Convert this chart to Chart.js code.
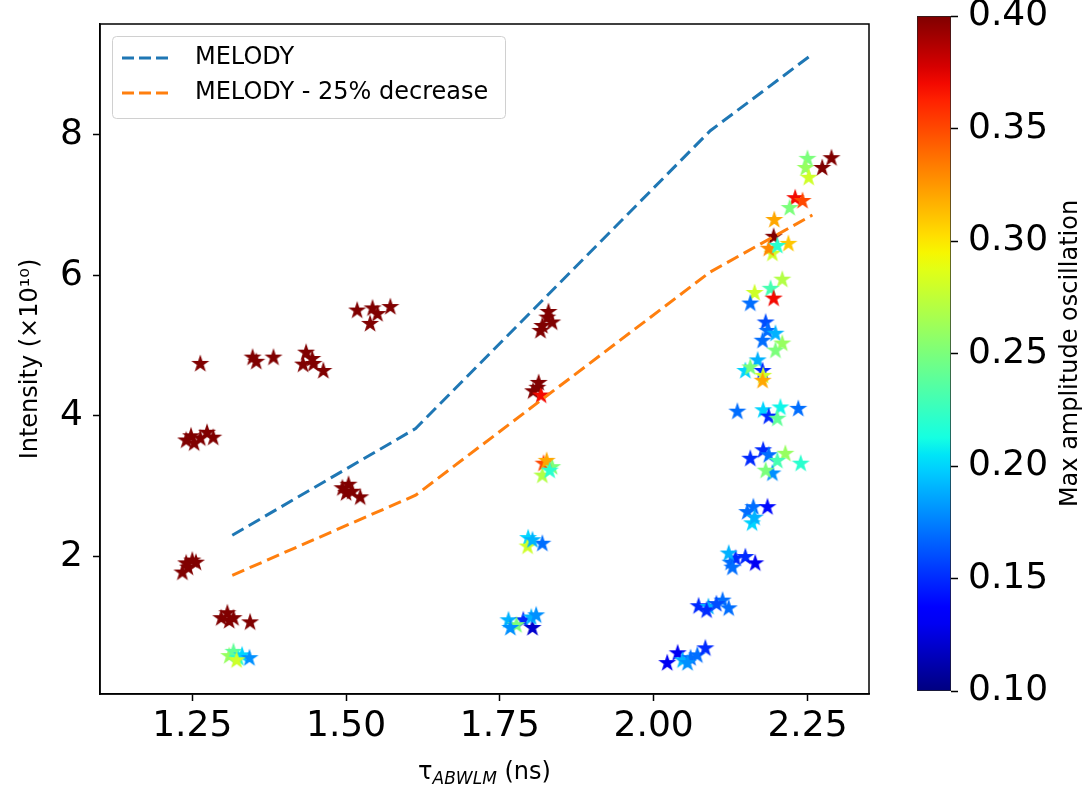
<!DOCTYPE html>
<html>
<head>
<meta charset="utf-8">
<script src="https://cdn.jsdelivr.net/npm/chart.js@4.4.0/dist/chart.umd.min.js"></script>
<style>
  html, body { margin: 0; padding: 0; background: #fff; }
  #wrap { position: relative; width: 1084px; height: 790px; }
  .box { position: absolute; top: 0; height: 790px; }
</style>
</head>
<body>
<div id="wrap">
  <div class="box" style="left:0;width:890px"><canvas id="main"></canvas></div>
  <div class="box" style="left:890px;width:194px"><canvas id="cbar"></canvas></div>
</div>
<script>
// MELODY reference curves
const melodyTau = [1.315, 1.613, 2.092, 2.258];
const melodyIntensity = [2.30, 3.82, 8.06, 9.15];
const melodyLowIntensity = [1.73, 2.87, 6.05, 6.86];

// measured points: tau (ns), intensity (1e10), max amplitude oscillation
const starTau = [
  1.263, 1.348, 1.354, 1.382, 1.435, 1.430, 1.445, 1.447, 1.463,
  1.518, 1.543, 1.551, 1.539, 1.572,
  1.240, 1.248, 1.253, 1.274, 1.284, 1.263,
  1.234, 1.240, 1.250, 1.243, 1.256,
  1.297, 1.307, 1.317, 1.310, 1.344,
  1.494, 1.504, 1.510, 1.500, 1.523,
  1.310, 1.317, 1.325, 1.331, 1.343, 1.322,
  1.827, 1.819, 1.835, 1.816, 1.829,
  1.811, 1.804, 1.817, 1.813,
  1.821, 1.835, 1.819, 1.826, 1.831,
  1.796, 1.819, 1.795, 1.803,
  1.764, 1.788, 1.803, 1.801, 1.777, 1.767, 1.809,
  2.250, 2.247, 2.252, 2.274, 2.289, 2.230, 2.242, 2.221, 2.196, 2.195,
  2.219, 2.193, 2.187, 2.201, 2.209, 2.164, 2.190, 2.195, 2.157, 2.182,
  2.185, 2.177, 2.198, 2.209, 2.198, 2.169, 2.149, 2.157, 2.177, 2.178,
  2.177, 2.136, 2.178, 2.206, 2.187, 2.201, 2.235,
  2.157, 2.178, 2.187, 2.214, 2.201, 2.239, 2.193, 2.182,
  2.152, 2.162, 2.160, 2.185, 2.164,
  2.125, 2.133, 2.149, 2.165, 2.122, 2.128,
  2.073, 2.089, 2.112, 2.122, 2.086, 2.102,
  2.022, 2.039, 2.047, 2.060, 2.071, 2.084, 2.055
];
const starIntensity = [
  4.74, 4.83, 4.77, 4.83, 4.90, 4.73, 4.81, 4.74, 4.64,
  5.50, 5.53, 5.45, 5.31, 5.55,
  3.65, 3.71, 3.61, 3.76, 3.69, 3.68,
  1.77, 1.90, 1.94, 1.84, 1.91,
  1.12, 1.19, 1.12, 1.08, 1.06,
  2.97, 3.02, 2.92, 2.90, 2.84,
  0.58, 0.64, 0.55, 0.59, 0.55, 0.52,
  5.40, 5.28, 5.33, 5.21, 5.48,
  4.40, 4.35, 4.29, 4.47,
  3.32, 3.27, 3.15, 3.36, 3.22,
  2.26, 2.18, 2.14, 2.23,
  1.09, 1.09, 0.98, 1.13, 1.02, 0.98, 1.16,
  7.66, 7.53, 7.39, 7.53, 7.67, 7.10, 7.06, 6.96, 6.79, 6.55,
  6.45, 6.31, 6.38, 6.42, 5.94, 5.75, 5.81, 5.67, 5.60, 5.33,
  5.21, 5.07, 5.17, 5.03, 4.93, 4.79, 4.64, 4.69, 4.64, 4.57,
  4.50, 4.06, 4.08, 4.12, 3.99, 3.96, 4.10,
  3.39, 3.51, 3.44, 3.46, 3.36, 3.32, 3.18, 3.22,
  2.63, 2.70, 2.47, 2.70, 2.55,
  1.91, 1.97, 1.99, 1.90, 2.04, 1.84,
  1.29, 1.28, 1.37, 1.26, 1.23, 1.32,
  0.48, 0.62, 0.52, 0.55, 0.59, 0.69, 0.48
];
const starAmplitude = [
  0.40, 0.40, 0.40, 0.40, 0.40, 0.40, 0.40, 0.40, 0.40,
  0.40, 0.40, 0.40, 0.40, 0.40,
  0.40, 0.40, 0.40, 0.40, 0.40, 0.40,
  0.40, 0.40, 0.40, 0.40, 0.40,
  0.40, 0.40, 0.40, 0.40, 0.40,
  0.40, 0.40, 0.40, 0.40, 0.40,
  0.26, 0.24, 0.22, 0.20, 0.18, 0.28,
  0.40, 0.40, 0.40, 0.40, 0.40,
  0.40, 0.40, 0.37, 0.40,
  0.35, 0.25, 0.27, 0.32, 0.22,
  0.20, 0.17, 0.28, 0.19,
  0.19, 0.15, 0.12, 0.19, 0.25, 0.18, 0.18,
  0.25, 0.26, 0.28, 0.40, 0.40, 0.37, 0.35, 0.25, 0.32, 0.40,
  0.31, 0.28, 0.33, 0.22, 0.27, 0.28, 0.23, 0.37, 0.17, 0.16,
  0.17, 0.17, 0.19, 0.26, 0.25, 0.19, 0.20, 0.25, 0.15, 0.28,
  0.32, 0.17, 0.20, 0.21, 0.15, 0.24, 0.17,
  0.15, 0.15, 0.17, 0.26, 0.23, 0.22, 0.18, 0.25,
  0.17, 0.17, 0.20, 0.14, 0.19,
  0.17, 0.15, 0.15, 0.13, 0.19, 0.17,
  0.15, 0.19, 0.17, 0.17, 0.15, 0.16,
  0.13, 0.13, 0.19, 0.17, 0.17, 0.15, 0.18
];

const xTicks = [1.25, 1.50, 1.75, 2.00, 2.25];
const yTicks = [2, 4, 6, 8];
const cbTicks = [0.10, 0.15, 0.20, 0.25, 0.30, 0.35, 0.40];
const ampMin = 0.10, ampMax = 0.40;

const FONT = "'DejaVu Sans', sans-serif";

// matplotlib jet
function jet(v) {
  const t = Math.min(1, Math.max(0, (v - ampMin) / (ampMax - ampMin)));
  const interp = (pts) => {
    for (let i = 1; i < pts.length; i++) {
      if (t <= pts[i][0]) {
        const [x0, y0] = pts[i - 1], [x1, y1] = pts[i];
        return y0 + (y1 - y0) * (t - x0) / (x1 - x0);
      }
    }
    return pts[pts.length - 1][1];
  };
  const r = interp([[0, 0], [0.35, 0], [0.66, 1], [0.89, 1], [1, 0.5]]);
  const g = interp([[0, 0], [0.125, 0], [0.375, 1], [0.64, 1], [0.91, 0], [1, 0]]);
  const b = interp([[0, 0.5], [0.11, 1], [0.34, 1], [0.65, 0], [1, 0]]);
  return `rgb(${Math.round(r * 255)},${Math.round(g * 255)},${Math.round(b * 255)})`;
}

// filled star marker, one canvas per colour
const starCache = {};
function starImage(color) {
  if (starCache[color]) return starCache[color];
  const r = 9.5, size = 22;
  const c = document.createElement('canvas');
  c.width = c.height = size;
  const g = c.getContext('2d');
  g.translate(size / 2, size / 2);
  g.beginPath();
  for (let i = 0; i < 10; i++) {
    const rad = i % 2 ? r * 0.382 : r;
    const a = -Math.PI / 2 + i * Math.PI / 5;
    g.lineTo(rad * Math.cos(a), rad * Math.sin(a));
  }
  g.closePath();
  g.fillStyle = color;
  g.fill();
  starCache[color] = c;
  return c;
}

// no extra room for half tick labels at the axis ends
const noPad = (s) => { s.paddingTop = 0; s.paddingBottom = 0; s.paddingLeft = 0; s.paddingRight = 0; };

const framePlugin = {
  id: 'frame',
  afterDraw(chart) {
    const {ctx, chartArea: a} = chart;
    ctx.save();
    ctx.strokeStyle = '#000';
    ctx.lineWidth = 1.5;
    ctx.strokeRect(a.left, a.top, a.right - a.left, a.bottom - a.top);

    // legend box
    ctx.beginPath();
    ctx.roundRect(112.5, 36.5, 393, 82, 4);
    ctx.fillStyle = 'rgba(255,255,255,0.8)';
    ctx.fill();
    ctx.strokeStyle = '#d0d0d0';
    ctx.lineWidth = 1;
    ctx.stroke();
    chart.data.datasets.slice(0, 2).forEach((ds, i) => {
      const y = 58 + 35 * i;
      ctx.beginPath();
      ctx.setLineDash([12, 5]);
      ctx.strokeStyle = ds.borderColor;
      ctx.lineWidth = 3;
      ctx.moveTo(122, y);
      ctx.lineTo(172, y);
      ctx.stroke();
      ctx.setLineDash([]);
      ctx.fillStyle = '#000';
      ctx.font = '24px ' + FONT;
      ctx.textBaseline = 'middle';
      ctx.textAlign = 'left';
      ctx.fillText(ds.label, 195, y);
    });

    // x title with subscript
    const cx = (a.left + a.right) / 2, by = 779;
    const big = '24px ' + FONT, small = 'italic 17px ' + FONT;
    ctx.font = big; const w1 = ctx.measureText('τ').width;
    ctx.font = small; const w2 = ctx.measureText('ABWLM').width;
    ctx.font = big; const w3 = ctx.measureText(' (ns)').width;
    let x = cx - (w1 + w2 + w3) / 2;
    ctx.textBaseline = 'alphabetic';
    ctx.fillStyle = '#000';
    ctx.font = big; ctx.fillText('τ', x, by); x += w1;
    ctx.font = small; ctx.fillText('ABWLM', x, by + 5); x += w2;
    ctx.font = big; ctx.fillText(' (ns)', x, by);
    ctx.restore();
  }
};

new Chart(document.getElementById('main'), {
  type: 'scatter',
  data: {
    datasets: [
      {
        label: 'MELODY',
        data: melodyTau.map((x, i) => ({x, y: melodyIntensity[i]})),
        showLine: true, borderColor: '#1f77b4', borderWidth: 3,
        borderDash: [13, 6], pointRadius: 0, fill: false
      },
      {
        label: 'MELODY - 25% decrease',
        data: melodyTau.map((x, i) => ({x, y: melodyLowIntensity[i]})),
        showLine: true, borderColor: '#ff7f0e', borderWidth: 3,
        borderDash: [13, 6], pointRadius: 0, fill: false
      },
      {
        label: 'data',
        data: starTau.map((x, i) => ({x, y: starIntensity[i]})),
        pointRadius: 9,
        pointStyle: (c) => starImage(jet(starAmplitude[c.dataIndex]))
      }
    ]
  },
  options: {
    responsive: true,
    maintainAspectRatio: false,
    animation: false,
    layout: {padding: {left: 0, right: 21, top: 24, bottom: 0}},
    plugins: {legend: {display: false}, tooltip: {enabled: false}},
    scales: {
      x: {
        type: 'linear', min: 1.10, max: 2.35,
        afterBuildTicks: (s) => { s.ticks = xTicks.map(v => ({value: v})); },
        afterFit: (s) => { s.height = 96; noPad(s); },
        ticks: {
          callback: (v) => Number(v).toFixed(2),
          font: {family: FONT, size: 36}, color: '#000', padding: 4, maxRotation: 0
        },
        grid: {drawOnChartArea: false, tickLength: 7, color: '#000', tickWidth: 1.5},
        border: {display: true, color: '#000', width: 1.5}
      },
      y: {
        type: 'linear', min: 0.04, max: 9.58,
        afterBuildTicks: (s) => { s.ticks = yTicks.map(v => ({value: v})); },
        afterFit: (s) => { s.width = 100; noPad(s); },
        ticks: {
          callback: (v) => String(v),
          font: {family: FONT, size: 36}, color: '#000', padding: 10
        },
        grid: {drawOnChartArea: false, tickLength: 7, color: '#000', tickWidth: 1.5},
        border: {display: true, color: '#000', width: 1.5},
        title: {
          display: true, text: 'Intensity (×10¹⁰)', color: '#000',
          font: {family: FONT, size: 24}, padding: {top: 16, bottom: 0}
        }
      }
    }
  },
  plugins: [framePlugin]
});

// colour bar
const cbLabelPlugin = {
  id: 'cbLabel',
  afterDraw(chart) {
    const {ctx, chartArea: a} = chart;
    ctx.save();
    ctx.translate(181, (a.top + a.bottom) / 2);
    ctx.rotate(-Math.PI / 2);
    ctx.font = '24px ' + FONT;
    ctx.fillStyle = '#000';
    ctx.textAlign = 'center';
    ctx.textBaseline = 'middle';
    ctx.fillText('Max amplitude oscillation', 0, 0);
    ctx.restore();
  }
};

new Chart(document.getElementById('cbar'), {
  type: 'bar',
  data: {
    labels: ['amp'],
    datasets: [{
      data: [[ampMin, ampMax]],
      barPercentage: 1, categoryPercentage: 1,
      borderWidth: 1, borderColor: '#222', borderSkipped: false,
      backgroundColor: (c) => {
        const a = c.chart.chartArea;
        if (!a) return jet(0.25);
        const grad = c.chart.ctx.createLinearGradient(0, a.bottom, 0, a.top);
        for (let i = 0; i <= 40; i++) grad.addColorStop(i / 40, jet(ampMin + (ampMax - ampMin) * i / 40));
        return grad;
      }
    }]
  },
  options: {
    responsive: true,
    maintainAspectRatio: false,
    animation: false,
    layout: {padding: {left: 27, right: 0, top: 16, bottom: 99}},
    plugins: {legend: {display: false}, tooltip: {enabled: false}},
    scales: {
      x: {display: false},
      y: {
        position: 'right', min: ampMin, max: ampMax,
        afterBuildTicks: (s) => { s.ticks = cbTicks.map(v => ({value: v})); },
        afterFit: (s) => { s.width = 133; noPad(s); },
        ticks: {
          callback: (v) => Number(v).toFixed(2),
          font: {family: FONT, size: 36}, color: '#000', padding: 10
        },
        grid: {drawOnChartArea: false, tickLength: 7, color: '#000', tickWidth: 1.5},
        border: {display: false}
      }
    }
  },
  plugins: [cbLabelPlugin]
});
</script>
</body>
</html>
